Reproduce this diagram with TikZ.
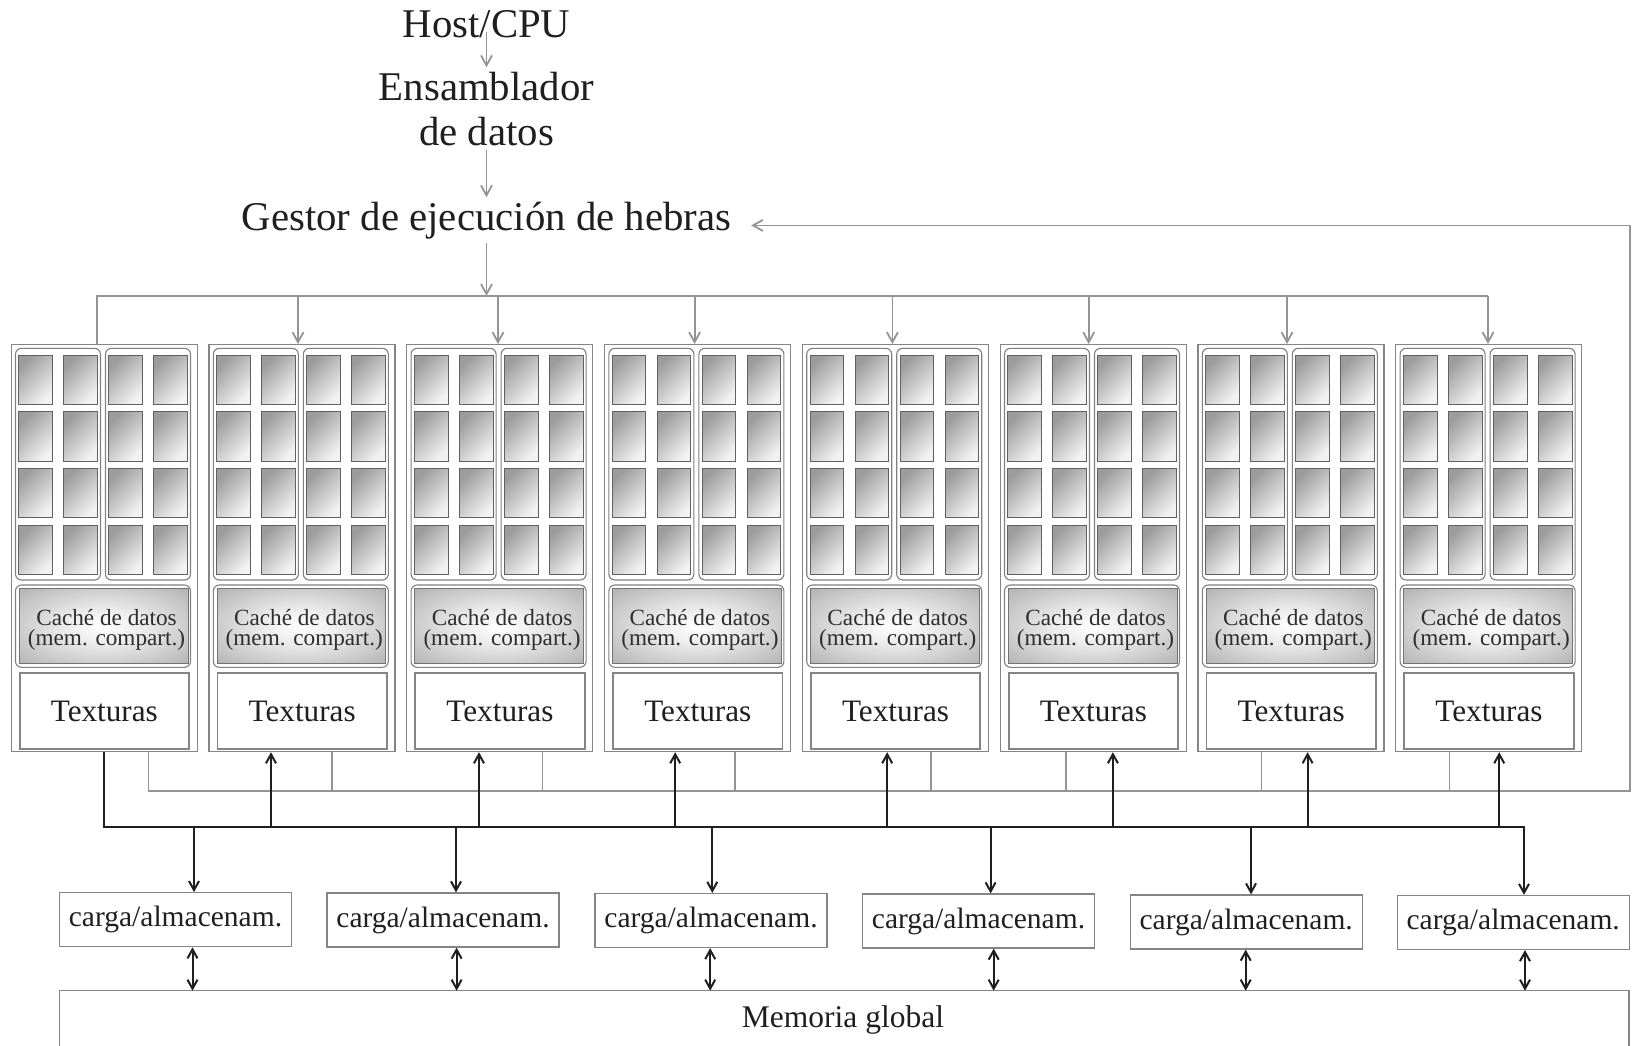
\documentclass[tikz,border=0pt]{standalone}
\usepackage{fontspec}
\setmainfont{Liberation Serif}
\usetikzlibrary{arrows.meta}

% radial fill of the data caches: light centre, darker rim
\pgfdeclareradialshading{cacheshade}{\pgfpoint{0bp}{0bp}}{%
  color(0bp)=(white); color(12bp)=(gray!16); color(38bp)=(gray!64); color(50bp)=(gray!82)}

\tikzset{
  txt/.style={inner sep=2pt, text=black!88},
  big/.style={txt, font=\fontsize{20.4pt}{22.5pt}\selectfont},
  gconn/.style={draw=black!42, line width=0.9pt},
  garrow/.style={gconn, -{Straight Barb[length=5pt,width=5.5pt]}},
  bconn/.style={draw=black!88, line width=1pt},
  barrow/.style={bconn, -{Straight Barb[length=4.5pt,width=5pt]}},
  bdouble/.style={bconn, {Straight Barb[length=4.5pt,width=5pt]}-{Straight Barb[length=4.5pt,width=5pt]}},
  frame/.style={draw=black!48, line width=0.6pt},
  clusterbox/.style={frame, rectangle, minimum width=93pt, minimum height=203.5pt, anchor=north west, inner sep=0pt},
  smbox/.style={draw=black!50, line width=0.55pt, rounded corners=3pt},
  core/.style={draw=black!62, line width=0.5pt, top color=gray!78, bottom color=gray!10, shading angle=45},
  cachebox/.style={draw=black!55, line width=0.5pt, shade, shading=cacheshade, rectangle,
    minimum width=84.35pt, minimum height=37.5pt, anchor=north west, inner sep=0pt},
  cachetext/.style={inner sep=0pt, align=center, text=black!82,
    font=\fontsize{11.6pt}{10pt}\selectfont},
  texbox/.style={frame, line width=0.9pt, fill=white, rectangle, minimum width=84.65pt, minimum height=38pt,
    anchor=north west, inner sep=0pt, text=black!88, font=\fontsize{15.6pt}{17pt}\selectfont},
  lsbox/.style={frame, rectangle, minimum width=116pt, minimum height=27pt, inner sep=0pt,
    text=black!88, font=\fontsize{14.75pt}{16pt}\selectfont},
}

\begin{document}
\lineskiplimit=-20pt
\begin{tikzpicture}[x=0.5pt, y=-0.5pt]
\useasboundingbox (0,0) rectangle (1633,1045);

% ---------- front end ----------
\node[big, anchor=base] (host) at (486.5,37) {Host/CPU};
\node[big, anchor=base, align=center] (ens) at (486.5,145) {Ensamblador\\de datos};
\node[big, anchor=base] (gestor) at (486.5,230) {Gestor de ejecución de hebras};
\coordinate (gbus) at (0,296);

\draw[garrow] ([yshift=2.5pt]host.base) -- (ens.north);
\draw[garrow] (ens.south) -- (gestor.north);
\draw[garrow] (gestor.south) -- (gestor.south |- gbus);

% ---------- eight multiprocessor clusters ----------
\foreach \i in {1,...,8}{
  \pgfmathsetmacro\cl{10.5+197.8*(\i-1)}
  \node[clusterbox] (c\i) at (\cl,344) {};
  % two groups of cores
  \draw[smbox] (\cl+5,348.3) rectangle (\cl+90,580);
  \draw[smbox] (\cl+95,348.3) rectangle (\cl+180,580);
  \foreach \cx in {8.3,53.3,98.3,143.3}
    \foreach \ry in {355,411.7,468.3,525}
      \path[core] (\cl+\cx,\ry) rectangle ++(33.7,49.5);
  % shared data cache
  \draw[smbox] (\cl+5,585) rectangle (\cl+180,667.3);
  \node[cachebox] (cache\i) at (\cl+8.3,588.3) {};
  \node[cachetext] (cachetxt\i) at (\cl+96,630) {Caché de datos\\(mem. compart.)};
  % texture unit
  \node[texbox] (tex\i) at (\cl+8.3,672.3) {Texturas};
}

% ---------- distribution bus from the thread manager ----------
\draw[gconn] (97.3,0 |- c1.north) |- (1488,296);
\foreach \x/\i in {298/2, 498/3, 694.6/4, 892.4/5, 1088.7/6, 1287/7, 1488/8}
  \draw[garrow] (\x,296) -- (\x,0 |- c\i.north);

% ---------- feedback to the thread manager ----------
\draw[garrow] (148.5,0 |- c1.south) |- (1630,790.7) |- ([xshift=7.75pt]gestor.mid east);
\foreach \x/\i in {331.6/2, 542.4/3, 734.8/4, 931.3/5, 1066.2/6, 1261.4/7, 1449.4/8}
  \draw[gconn] (\x,0 |- c\i.south) -- (\x,790.7);

% ---------- load/store units and global memory ----------
\node[lsbox] (ls1) at (175.5,919.7) {carga/almacenam.};
\node[lsbox] (ls2) at (443,920) {carga/almacenam.};
\node[lsbox] (ls3) at (711,920.5) {carga/almacenam.};
\node[lsbox] (ls4) at (978.5,921) {carga/almacenam.};
\node[lsbox] (ls5) at (1246.2,922) {carga/almacenam.};
\node[lsbox] (ls6) at (1513.2,922.5) {carga/almacenam.};

\coordinate (memtop) at (844,990.7);
\draw[frame] (59.6,1070) |- (memtop) -| (1629,1070);
\node[txt, anchor=base, font=\fontsize{15.75pt}{17pt}\selectfont] (mem) at (843,1027) {Memoria global};

% ---------- memory interconnect ----------
\draw[barrow] (103.6,0 |- c1.south) |- (1524,826.7) -- (1524,0 |- ls6.north);
\foreach \x/\i in {271/2, 479/3, 675.2/4, 887.2/5, 1112.9/6, 1307.6/7, 1499.2/8}
  \draw[barrow] (\x,826.7) -- (\x,0 |- c\i.south);
\foreach \x/\i in {194/1, 456/2, 712.3/3, 990.6/4, 1251/5}
  \draw[barrow] (\x,826.7) -- (\x,0 |- ls\i.north);
\foreach \x/\i in {192.5/1, 456.6/2, 710.2/3, 993.7/4, 1245.7/5, 1525/6}
  \draw[bdouble] (\x,0 |- ls\i.south) -- (\x,0 |- memtop);
\end{tikzpicture}
\end{document}
